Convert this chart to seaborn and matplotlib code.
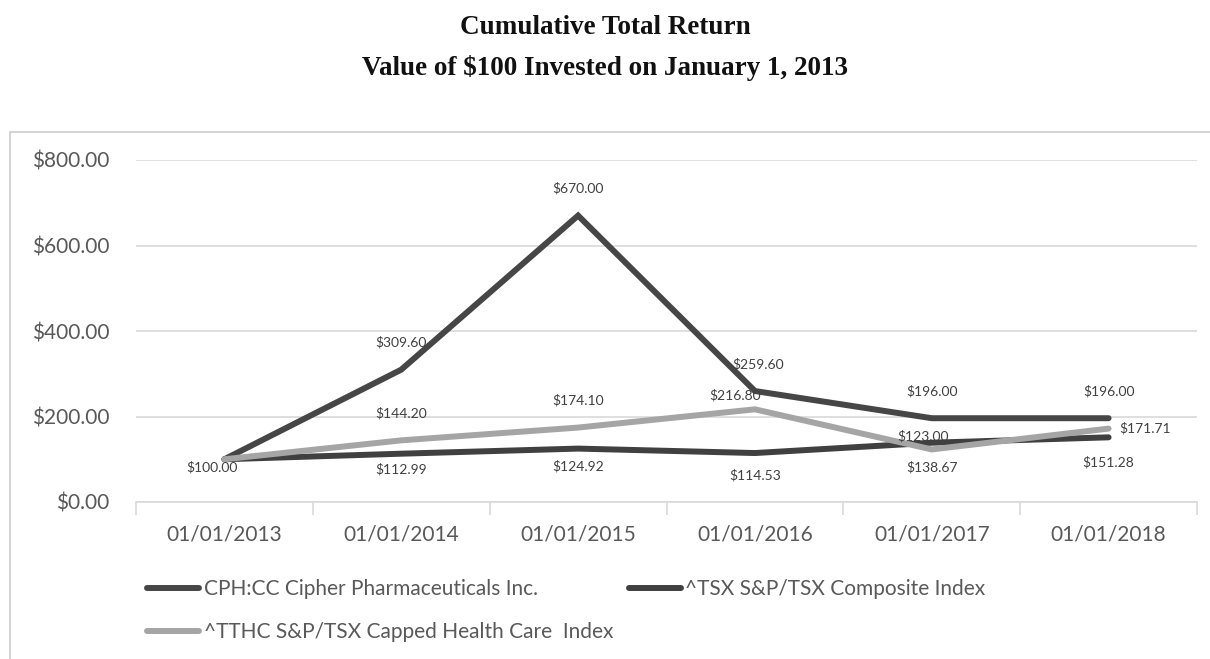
import matplotlib
matplotlib.use("Agg")
import matplotlib.pyplot as plt
import seaborn as sns
import pandas as pd
from matplotlib.patches import Rectangle
from matplotlib.lines import Line2D

dates = ["01/01/2013", "01/01/2014", "01/01/2015", "01/01/2016", "01/01/2017", "01/01/2018"]
cph = [100.00, 309.60, 670.00, 259.60, 196.00, 196.00]
tsx = [100.00, 112.99, 124.92, 114.53, 138.67, 151.28]
tthc = [100.00, 144.20, 174.10, 216.80, 123.00, 171.71]
series_names = ["CPH:CC Cipher Pharmaceuticals Inc.",
                "^TSX S&P/TSX Composite Index",
                "^TTHC S&P/TSX Capped Health Care  Index"]
y_ticks = [0, 200, 400, 600, 800]

# label offsets (points) - styling only
cph_off = [None, (0, 19.5), (0, 19.5), (2, 19.5), (0, 19.5), (0, 19.5)]
tthc_off = [None, (0, 19.5), (0, 19.5), (-14, 10), (-6, 9.5), (26, 0)]
tsx_off = [(-9, -6), (0, -11.5), (0, -13), (0, -16), (0, -18), (0, -18)]

colors = {series_names[0]: "#464646", series_names[1]: "#404040", series_names[2]: "#a5a5a5"}

rows = []
for name, vals in zip(series_names, [cph, tsx, tthc]):
    for i, v in enumerate(vals):
        rows.append({"idx": i, "value": v, "series": name})
df = pd.DataFrame(rows)

sns.set_theme(style="white")
plt.rcParams["font.family"] = ["Lato", "DejaVu Sans"]

fig = plt.figure(figsize=(12.1, 6.59), dpi=100)
ax = fig.add_axes([136/1210, 1-502/659, (1197-136)/1210, (502-160)/659])

sns.lineplot(data=df, x="idx", y="value", hue="series", palette=colors,
             hue_order=series_names, linewidth=4.3, sort=False, ax=ax, legend=False)
for ln in ax.get_lines():
    ln.set_solid_capstyle("round")
    ln.set_solid_joinstyle("miter")

ax.set_xlim(-0.5, 5.5)
ax.set_ylim(0, 800)
ax.set_yticks(y_ticks)
ax.set_yticklabels([f"${v:,.2f}" for v in y_ticks], fontsize=15, color="#595959")
ax.yaxis.grid(True, color="#d9d9d9", linewidth=1.2)
ax.set_axisbelow(True)
ax.set_xticks(range(len(dates)))
ax.set_xticklabels(dates, fontsize=15, color="#595959")
ax.set_xticks([i - 0.5 for i in range(len(dates) + 1)], minor=True)
ax.tick_params(axis="x", which="major", length=0, pad=16)
ax.tick_params(axis="x", which="minor", length=9, color="#d9d9d9", width=1.2, direction="out", bottom=True)
ax.tick_params(axis="y", length=0, pad=19)
ax.set_xlabel("")
ax.set_ylabel("")
for s in ["top", "right", "left"]:
    ax.spines[s].set_visible(False)
ax.spines["bottom"].set_color("#d9d9d9")
ax.spines["bottom"].set_linewidth(1.2)

lab_kw = dict(textcoords="offset points", ha="center", va="center", fontsize=10, color="#404040")
for vals, offs in [(cph, cph_off), (tthc, tthc_off), (tsx, tsx_off)]:
    for i, v in enumerate(vals):
        if offs[i] is None:
            continue
        ax.annotate(f"${v:,.2f}", (i, v), xytext=offs[i], **lab_kw)

# Legend
handles = [Line2D([0], [0], color=colors[n], lw=4.3, solid_capstyle="round") for n in series_names]
order = [0, 2, 1]
leg = fig.legend([handles[k] for k in order], [series_names[k] for k in order],
                 ncol=2, loc="upper left", bbox_to_anchor=(139/1210, 1-571/659),
                 frameon=False, fontsize=15, handlelength=2.5, handletextpad=0.2,
                 columnspacing=0.75, labelspacing=1.1, borderaxespad=0)
for t in leg.get_texts():
    t.set_color("#595959")

# Titles
fig.text(0.5, 1-28/659, "Cumulative Total Return", ha="center", va="center",
         fontsize=19.5, fontweight="bold", family=["Liberation Serif"], color="#111111")
fig.text(0.5, 1-68/659, "Value of $100 Invested on January 1, 2013", ha="center", va="center",
         fontsize=19.5, fontweight="bold", family=["Liberation Serif"], color="#111111")

# Chart frame
fig.patches.append(Rectangle((10/1210, -0.05), 1.2, 1-132/659 + 0.05, transform=fig.transFigure,
                             fill=False, edgecolor="#d0d0d0", linewidth=1.3))

fig.savefig("out.png", dpi=100)
